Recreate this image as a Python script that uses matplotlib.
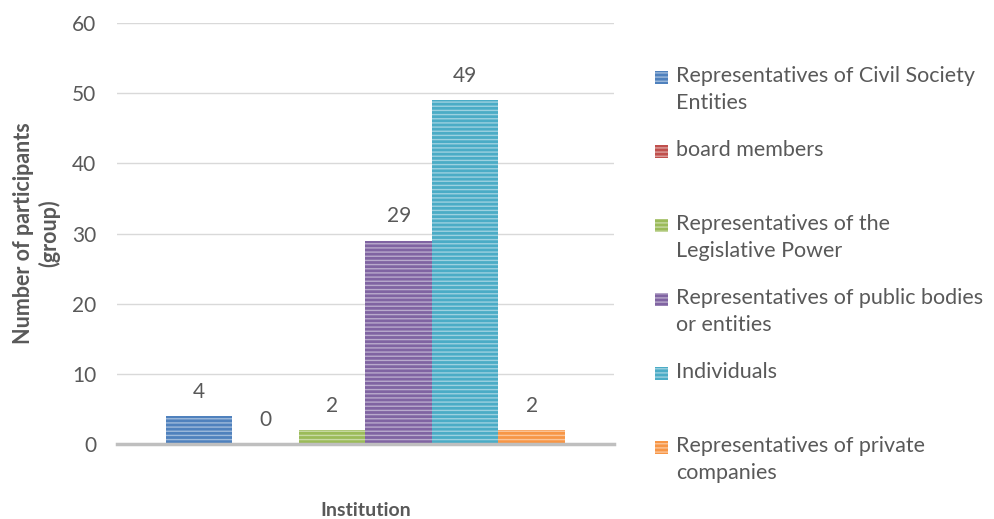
import matplotlib
matplotlib.use("Agg")
import matplotlib.pyplot as plt
from matplotlib.patches import Rectangle
import matplotlib.colors as mcolors
import numpy as np

plt.rcParams['font.family'] = ['Lato', 'DejaVu Sans']
plt.rcParams['hatch.linewidth'] = 1.0

groups = ["Representatives of Civil Society\nEntities",
          "board members",
          "Representatives of the\nLegislative Power",
          "Representatives of public bodies\nor entities",
          "Individuals",
          "Representatives of private\ncompanies"]
values = [4, 0, 2, 29, 49, 2]
colors = ["#4F81BD", "#C0504D", "#9BBB59", "#8064A2", "#4BACC6", "#F79646"]
yticks = [0, 10, 20, 30, 40, 50, 60]

TXT = "#595959"
FS = 15

def lighten(c, f=0.45):
    r, g, b = mcolors.to_rgb(c)
    return (r + (1 - r) * f, g + (1 - g) * f, b + (1 - b) * f)

fig = plt.figure(figsize=(9.95, 5.19), dpi=100)
ax = fig.add_axes([117/995, 1-444/519, 497/995, 421/519])

n = len(values)
xs = np.arange(n) - (n - 1) / 2
for x, v, c in zip(xs, values, colors):
    ax.bar(x, v, width=1.0, color=c, edgecolor=lighten(c), linewidth=0, hatch='----')
    ax.annotate(str(v), (x, v), xytext=(0, 17.5), textcoords='offset points',
                ha='center', va='center', fontsize=FS, color=TXT)

ax.set_xlim(-497/66.5/2, 497/66.5/2)
ax.set_ylim(0, 60)
ax.set_yticks(yticks)
ax.set_xticks([])
ax.grid(axis='y', color='#D9D9D9', linewidth=1)
ax.set_axisbelow(True)
for s in ['top', 'right', 'left']:
    ax.spines[s].set_visible(False)
ax.spines['bottom'].set_color('#BFBFBF')
ax.spines['bottom'].set_linewidth(2.5)
ax.tick_params(axis='y', length=0, pad=15, labelsize=FS, labelcolor=TXT)
ax.set_ylabel("Number of participants\n(group)", fontsize=15.5, fontweight='bold',
              color=TXT, linespacing=1.2)
ax.yaxis.set_label_coords(-0.115, 0.5)
ax.set_xlabel("Institution", fontsize=14, fontweight='bold', color=TXT)
ax.xaxis.set_label_coords(0.5, -0.138)

# legend, Excel-like top-aligned slots
top_px = 77
step_px = 74
for i, (lab, c) in enumerate(zip(groups, colors)):
    yc = 1 - (top_px + i * step_px) / 519
    fig.patches.append(Rectangle((655/995, yc - 6.5/519), 13/995, 13/519,
                                 transform=fig.transFigure, facecolor=c,
                                 edgecolor=lighten(c), linewidth=0, hatch='----'))
    fig.text(676/995, yc + 11/519, lab, fontsize=15.5, color=TXT, ha='left', va='top',
             linespacing=1.42)

fig.savefig("out.png", dpi=100)
